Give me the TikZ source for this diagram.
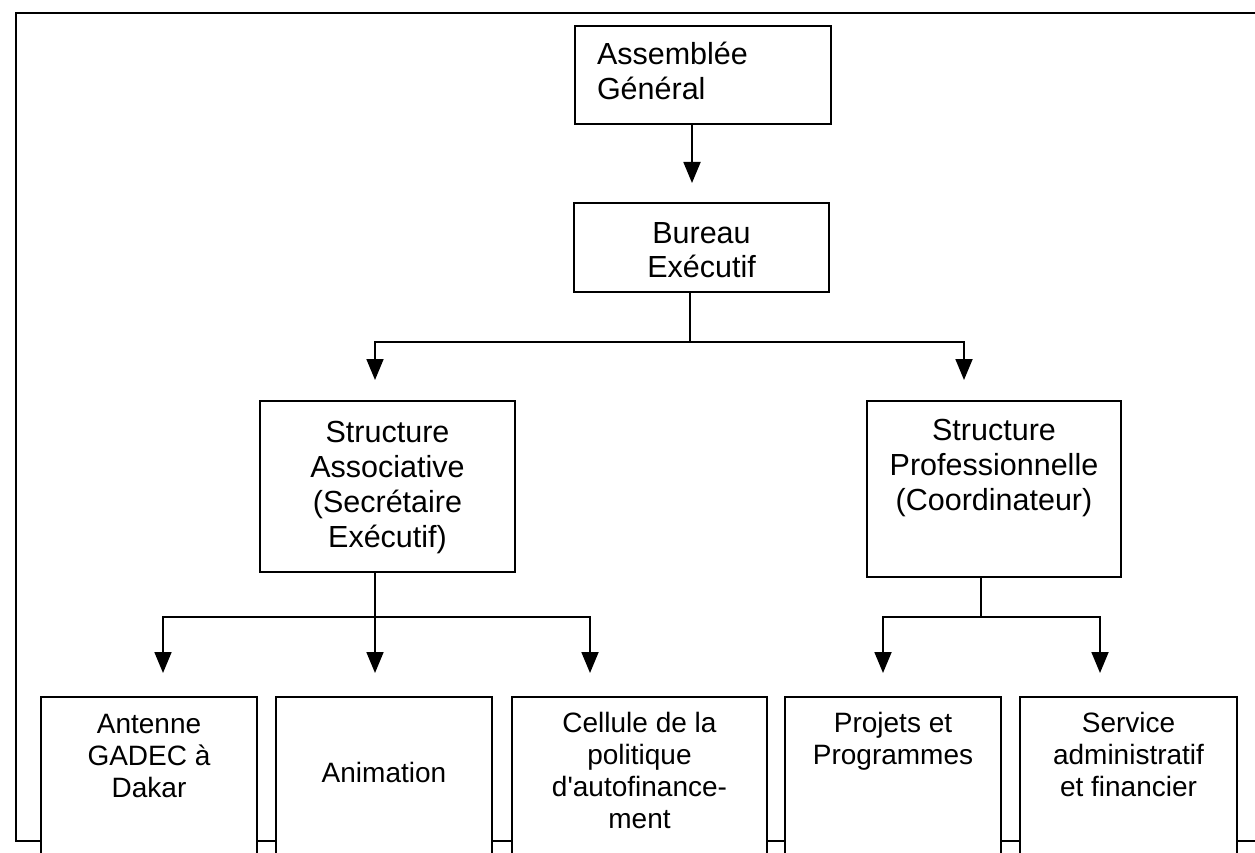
\documentclass[tikz,border=0pt]{standalone}
\usepackage{fontspec}
\setmainfont{Liberation Sans}
\usetikzlibrary{arrows.meta}
\newcommand{\orgbox}[5]{\begin{minipage}[c][#2][t]{#1}#3\rule{0pt}{#4}#5\end{minipage}}
\newcommand{\upfont}{\fontsize{30.5}{35}\selectfont}
\newcommand{\lowfont}{\fontsize{28}{32}\selectfont}
\tikzset{
  box/.style={draw, line width=1.8pt, fill=white, inner sep=0pt, outer sep=0pt},
  conn/.style={line width=1.8pt},
  arr/.style={line width=1.8pt, -{Triangle[width=17pt, length=21pt]}},
  frame/.style={line width=2.2pt}
}
\begin{document}
\begin{tikzpicture}[x=1pt,y=-1pt]
\useasboundingbox (0,0) rectangle (1255,853);
\clip (0,0) rectangle (1255,853);
\fill[white] (0,0) rectangle (1255,853);
% outer frame
\coordinate (ftr) at (1255,13);
\coordinate (ftl) at (16,13);
\coordinate (fbl) at (16,841);
\coordinate (fbr) at (1255,841);
\draw[frame] (ftr) -- (ftl) -- (fbl) -- (fbr);

% boxes
\node[box] (ag) at (703,75) {\orgbox{256pt}{98pt}{\upfont\raggedright\leftskip=22pt}{39pt}{Assemblée\\Général}};
\node[box] (be) at (701.5,247.5) {\orgbox{255pt}{89pt}{\upfont\centering}{40pt}{Bureau\\Exécutif}};
\node[box] (sa) at (387.5,486.5) {\orgbox{255pt}{171pt}{\upfont\centering}{41pt}{Structure\\Associative\\(Secrétaire\\Exécutif)}};
\node[box] (sp) at (994,489) {\orgbox{254pt}{176pt}{\upfont\centering}{39pt}{Structure\\Professionnelle\\(Coordinateur)}};

\node[box] (b1) at (149,798.5) {\orgbox{216pt}{203pt}{\lowfont\centering}{36pt}{Antenne\\GADEC à\\Dakar}};
\node[box] (b2) at (384,798.5) {\orgbox{216pt}{203pt}{\lowfont\centering}{85pt}{Animation}};
\node[box] (b3) at (639.5,798.5) {\orgbox{255pt}{203pt}{\lowfont\centering}{35pt}{Cellule de la\\politique\\d\textquotesingle autofinance-\\ment}};
\node[box] (b4) at (893,798.5) {\orgbox{216pt}{203pt}{\lowfont\centering}{35pt}{Projets et\\Programmes}};
\node[box] (b5) at (1128.5,798.5) {\orgbox{217pt}{203pt}{\lowfont\centering}{35pt}{Service\\administratif\\et financier}};

% connector points
\coordinate (bein) at (692,183);
\coordinate (j1) at (690,342);
\coordinate (sain) at (375,380);
\coordinate (spin) at (964,380);
\coordinate (j2) at (375,617);
\coordinate (j3) at (981,617);
\coordinate (b1in) at (163,673);
\coordinate (b2in) at (375,673);
\coordinate (b3in) at (590,673);
\coordinate (b4in) at (883,673);
\coordinate (b5in) at (1100,673);

% connectors
\draw[arr] (ag.south -| bein) -- (bein);
\draw[conn] (be.south -| j1) -- (j1);
\draw[arr] (j1) -| (sain);
\draw[arr] (j1) -| (spin);
\draw[conn] (sa.south -| j2) -- (j2);
\draw[arr] (j2) -| (b1in);
\draw[arr] (j2) -- (b2in);
\draw[arr] (j2) -| (b3in);
\draw[conn] (sp.south -| j3) -- (j3);
\draw[arr] (j3) -| (b4in);
\draw[arr] (j3) -| (b5in);
\end{tikzpicture}
\end{document}
